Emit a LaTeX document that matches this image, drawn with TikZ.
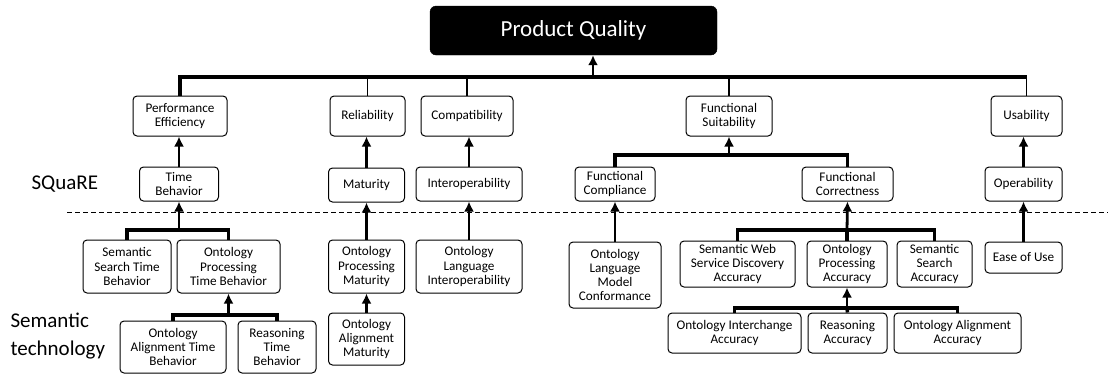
\documentclass[tikz,border=0pt]{standalone}
\usepackage{fontspec}
\setmainfont{Carlito}
\usepackage{tikz}
\usetikzlibrary{arrows.meta,positioning,calc}

\tikzset{
  qbox/.style={draw,line width=1pt,rounded corners=4pt,align=center,inner sep=1pt,
               font=\fontsize{13.2}{14.2}\selectfont},
  topbox/.style={draw,fill=black,rounded corners=6pt,text=white,
                 font=\fontsize{23}{26}\selectfont},
  side/.style={align=left,anchor=west,font=\fontsize{21}{28}\selectfont},
  bar/.style={line width=3.5pt},
  drop/.style={line width=1.8pt},
  uparrow/.style={line width=2.8pt,-{Latex[length=10pt,width=10pt]}},
}

\begin{document}
\begin{tikzpicture}[x=1pt,y=-1pt]
  \useasboundingbox (0,0) rectangle (1108,376);
  % --- root ---
  \node[topbox,minimum width=287,minimum height=49] (pq) at (573.5,30.5) {Product Quality};
  % --- ISO characteristics ---
  \node[qbox,minimum width=94,minimum height=40]  (pe)   at (180,116)    {Performance\\Efficiency};
  \node[qbox,minimum width=75,minimum height=40]  (rel)  at (367.5,116)  {Reliability};
  \node[qbox,minimum width=92,minimum height=40]  (comp) at (467,116)    {Compatibility};
  \node[qbox,minimum width=86,minimum height=40]  (fs)   at (729,116)    {Functional\\Suitability};
  \node[qbox,minimum width=71,minimum height=40]  (usa)  at (1026.5,116) {Usability};
  % --- sub-characteristics ---
  \node[qbox,minimum width=79,minimum height=34]  (tb)   at (179,184)    {Time\\Behavior};
  \node[qbox,minimum width=76,minimum height=34]  (mat)  at (366.5,185)  {Maturity};
  \node[qbox,minimum width=106,minimum height=34] (iop)  at (469,184)    {Interoperability};
  \node[qbox,minimum width=80,minimum height=34]  (fc)   at (615,184)    {Functional\\Compliance};
  \node[qbox,minimum width=91,minimum height=34]  (fcr)  at (847.5,184)  {Functional\\Correctness};
  \node[qbox,minimum width=77,minimum height=34]  (op)   at (1023.5,184) {Operability};
  % --- semantic technology ---
  \node[qbox,minimum width=88,minimum height=53]  (sstb) at (127,266.5)  {Semantic\\Search Time\\Behavior};
  \node[qbox,minimum width=103,minimum height=53] (optb) at (228.5,266.5) {Ontology\\Processing\\Time Behavior};
  \node[qbox,minimum width=76,minimum height=53]  (opm)  at (366.5,266.5) {Ontology\\Processing\\Maturity};
  \node[qbox,minimum width=106,minimum height=53] (oli)  at (469,266.5)  {Ontology\\Language\\Interoperability};
  \node[qbox,minimum width=92,minimum height=66]  (olmc) at (615,275)    {Ontology\\Language\\Model\\Conformance};
  \node[qbox,minimum width=115,minimum height=46] (swsd) at (737.5,264)  {Semantic Web\\Service Discovery\\Accuracy};
  \node[qbox,minimum width=80,minimum height=46]  (opa)  at (847,264)    {Ontology\\Processing\\Accuracy};
  \node[qbox,minimum width=75,minimum height=46]  (ssa)  at (934.5,264)  {Semantic\\Search\\Accuracy};
  \node[qbox,minimum width=77,minimum height=31]  (eou)  at (1023.5,257.5) {Ease of Use};
  % --- bottom row ---
  \node[qbox,minimum width=106,minimum height=52] (oatb) at (173,347)    {Ontology\\Alignment Time\\Behavior};
  \node[qbox,minimum width=78,minimum height=52]  (rtb)  at (277,347)    {Reasoning\\Time\\Behavior};
  \node[qbox,minimum width=76,minimum height=52]  (oam)  at (366.5,339)  {Ontology\\Alignment\\Maturity};
  \node[qbox,minimum width=133,minimum height=40] (oia)  at (734.5,333)  {Ontology Interchange\\Accuracy};
  \node[qbox,minimum width=79,minimum height=40]  (ra)   at (847.5,333)  {Reasoning\\Accuracy};
  \node[qbox,minimum width=127,minimum height=40] (oaa)  at (957.5,333)  {Ontology Alignment\\Accuracy};
  % --- side labels ---
  \node[side] (sq)  at (28,184) {SQuaRE};
  \node[side] (sem) at (7,336)  {Semantic\\technology};
  % separator
  \coordinate (sepL) at (67,212);
  \coordinate (sepR) at (1108,212);
  \draw[line width=0.8pt,dash pattern=on 5pt off 3pt] (sepL) -- (sepR);
  % junctions
  \coordinate (jtop) at (593,77);
  \coordinate (jfs)  at (729,155);
  \coordinate (jtb)  at (179,230);
  \coordinate (jfcr) at (847,230);
  \coordinate (jop)  at (228.5,315);
  \coordinate (jopa) at (847,308);
  % --- root links ---
  \draw[bar] (pe.north) |- (usa.north |- jtop);
  \draw[drop] (usa.north |- jtop) -- (usa.north);
  \foreach \n in {rel,comp,fs} {
    \draw[drop] (\n.north) -- (\n.north |- jtop);
  }
  \draw[uparrow] (jtop) -- (jtop |- pq.south);
  % --- level 2 to level 1 ---
  \draw[uparrow] (tb.north) -- (tb.north |- pe.south);
  \draw[uparrow] (mat.north) -- (mat.north |- rel.south);
  \draw[uparrow] (iop.north) -- (iop.north |- comp.south);
  \draw[uparrow] (op.north) -- (op.north |- usa.south);
  \draw[bar] (fc.north) |- (jfs) -| (fcr.north);
  \draw[uparrow] (jfs) -- (fs.south);
  % --- technology to SQuaRE ---
  \draw[bar] (sstb.north) |- (jtb) -| (optb.north);
  \draw[uparrow] (jtb) -- (tb.south);
  \draw[uparrow] (opm.north) -- (opm.north |- mat.south);
  \draw[uparrow] (oli.north) -- (oli.north |- iop.south);
  \draw[uparrow] (olmc.north) -- (olmc.north |- fc.south);
  \draw[uparrow] (eou.north) -- (eou.north |- op.south);
  \draw[bar] (swsd.north) |- (jfcr) -| (ssa.north);
  \draw[bar] (opa.north) -- (jfcr);
  \draw[uparrow] (jfcr) -- (fcr.south);
  % --- bottom row ---
  \draw[bar] (oatb.north) |- (jop) -| (rtb.north);
  \draw[uparrow] (jop) -- (optb.south);
  \draw[uparrow] (oam.north) -- (oam.north |- opm.south);
  \draw[bar] (oia.north) |- (jopa) -| (oaa.north);
  \draw[bar] (ra.north) -- (jopa);
  \draw[uparrow] (jopa) -- (opa.south);
\end{tikzpicture}
\end{document}
